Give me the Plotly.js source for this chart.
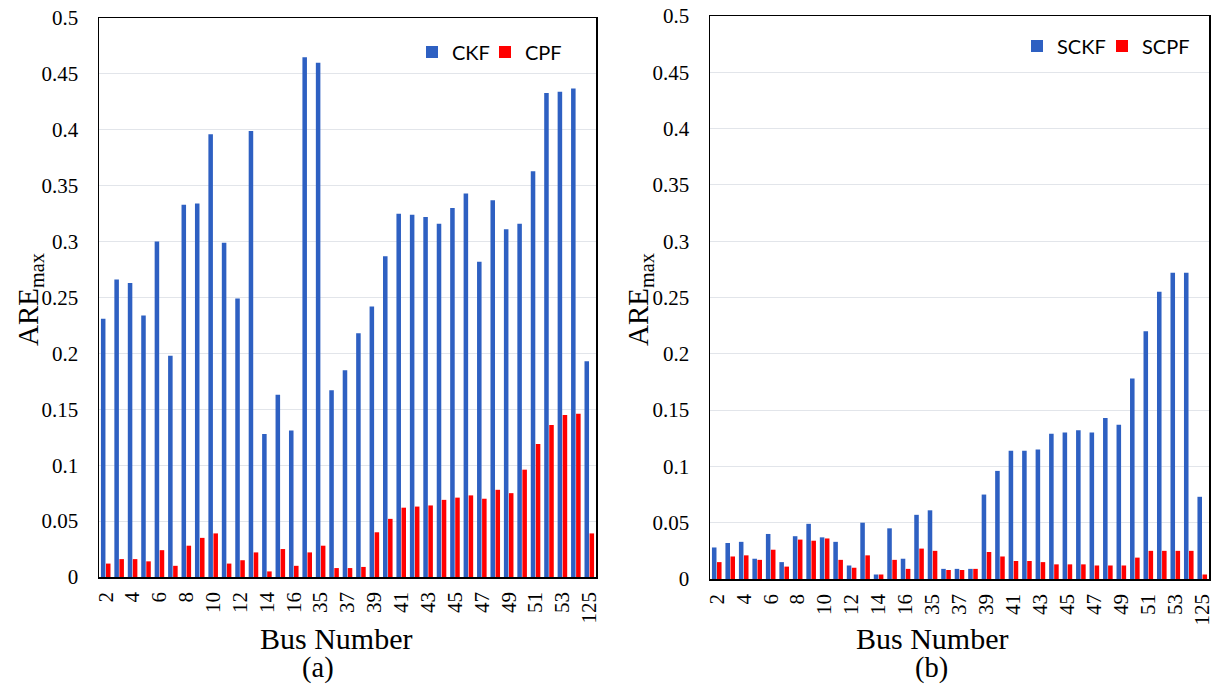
<!DOCTYPE html>
<html>
<head>
<meta charset="utf-8">
<script src="https://cdn.plot.ly/plotly-3.0.1.min.js"></script>
<style>
html,body{margin:0;padding:0;background:#fff;}
#chart{width:1217px;height:687px;}
</style>
</head>
<body>
<div id="chart"></div>
<script>
// Bus numbers (categories)
const busNumbers = ["2","3","4","5","6","7","8","9","10","11","12","13","14","15","16","34",
  "35","36","37","38","39","40","41","42","43","44","45","46","47","48","49","50","51","52","53","54","125"];
// shown tick labels (every other category)
const xTickLabels = busNumbers.filter((b, i) => i % 2 === 0);

// (a) CKF / CPF
const ckf = [0.231,0.266,0.263,0.234,0.300,0.198,0.333,0.334,0.396,0.299,0.249,0.399,0.128,0.163,0.131,0.465,
  0.460,0.167,0.185,0.218,0.242,0.287,0.325,0.324,0.322,0.316,0.330,0.343,0.282,0.337,0.311,0.316,0.363,0.433,0.434,0.437,0.193];
const cpf = [0.012,0.016,0.016,0.014,0.024,0.010,0.028,0.035,0.039,0.012,0.015,0.022,0.005,0.025,0.010,0.022,
  0.028,0.008,0.008,0.009,0.040,0.052,0.062,0.063,0.064,0.069,0.071,0.073,0.070,0.078,0.075,0.096,0.119,0.136,0.145,0.146,0.039];

// (b) SCKF / SCPF
const sckf = [0.028,0.032,0.033,0.018,0.040,0.015,0.038,0.049,0.037,0.033,0.012,0.050,0.004,0.045,0.018,0.057,
  0.061,0.009,0.009,0.009,0.075,0.096,0.114,0.114,0.115,0.129,0.130,0.132,0.130,0.143,0.137,0.178,0.220,0.255,0.272,0.272,0.073];
const scpf = [0.015,0.020,0.021,0.017,0.026,0.011,0.035,0.034,0.036,0.017,0.010,0.021,0.004,0.017,0.009,0.027,
  0.025,0.008,0.008,0.009,0.024,0.020,0.016,0.016,0.015,0.013,0.013,0.013,0.012,0.012,0.012,0.019,0.025,0.025,0.025,0.025,0.004];

const yTickVals = [0,0.05,0.1,0.15,0.2,0.25,0.3,0.35,0.4,0.45,0.5];
const yTickText = ["0","0.05","0.1","0.15","0.2","0.25","0.3","0.35","0.4","0.45","0.5"];

const BLUE = '#2e60c2';
const RED = '#ff0000';

const traces = [
  {type:'bar', name:'CKF', x:busNumbers, y:ckf, xaxis:'x', yaxis:'y', marker:{color:BLUE}, legend:'legend'},
  {type:'bar', name:'CPF', x:busNumbers, y:cpf, xaxis:'x', yaxis:'y', marker:{color:RED}, legend:'legend2'},
  {type:'bar', name:'SCKF', x:busNumbers, y:sckf, xaxis:'x2', yaxis:'y2', marker:{color:BLUE}, legend:'legend3'},
  {type:'bar', name:'SCPF', x:busNumbers, y:scpf, xaxis:'x2', yaxis:'y2', marker:{color:RED}, legend:'legend4'}
];

const W = 1217, H = 687;
const serif = 'Liberation Serif, Times New Roman, serif';
const tickFont = {family: serif, size: 21, color: '#000'};

function xAxis(x0, x1, anchor){
  return {
    domain:[x0/W, x1/W], anchor:anchor, type:'category',
    tickmode:'array', tickvals:xTickLabels, ticktext:xTickLabels,
    tickangle:-90, tickfont:tickFont, ticks:'', showgrid:false,
    showline:true, mirror:true, linecolor:'#000', linewidth:1.5,
    ticklabelstandoff:5, fixedrange:true
  };
}
function yAxis(top, bottom, anchor){
  return {
    domain:[1-bottom/H, 1-top/H], anchor:anchor, range:[0,0.5],
    tickmode:'array', tickvals:yTickVals, ticktext:yTickText,
    tickfont:tickFont, ticks:'', showgrid:true, gridcolor:'#e2e5ea', gridwidth:1,
    zeroline:false, showline:true, mirror:true, linecolor:'#000', linewidth:1.5,
    ticklabelstandoff:15, fixedrange:true
  };
}

const legendFont = {family:'Lato, Carlito, sans-serif', size:20, color:'#000'};
function legendAt(xText, yMid){
  return {orientation:'h', x:(xText-40)/W, xanchor:'left', y:1-yMid/H, yanchor:'middle',
    font:legendFont, bgcolor:'rgba(0,0,0,0)'};
}

const layout = {
  width:W, height:H,
  margin:{l:0,r:0,t:0,b:0},
  paper_bgcolor:'#fff', plot_bgcolor:'#fff',
  barmode:'group', bargap:0.25, bargroupgap:0.1,
  showlegend:true,
  xaxis: xAxis(99, 596, 'y'),
  yaxis: yAxis(18, 577, 'x'),
  xaxis2: xAxis(710, 1209, 'y2'),
  yaxis2: yAxis(16, 579, 'x2'),
  legend: legendAt(452, 52),
  legend2: legendAt(525, 52),
  legend3: legendAt(1057, 46),
  legend4: legendAt(1142, 46),
  annotations:[
    {text:'Bus Number', xref:'paper', yref:'paper', x:336/W, y:1-638/H, showarrow:false,
      font:{family:serif, size:30, color:'#000'}, xanchor:'center', yanchor:'middle'},
    {text:'(a)', xref:'paper', yref:'paper', x:318/W, y:1-668/H, showarrow:false,
      font:{family:serif, size:28.5, color:'#000'}, xanchor:'center', yanchor:'middle'},
    {text:'Bus Number', xref:'paper', yref:'paper', x:932/W, y:1-638/H, showarrow:false,
      font:{family:serif, size:30, color:'#000'}, xanchor:'center', yanchor:'middle'},
    {text:'(b)', xref:'paper', yref:'paper', x:931/W, y:1-668/H, showarrow:false,
      font:{family:serif, size:28.5, color:'#000'}, xanchor:'center', yanchor:'middle'},
    {text:'ARE<sub>max</sub>', xref:'paper', yref:'paper', x:30/W, y:1-300/H, showarrow:false, textangle:-90,
      font:{family:serif, size:29, color:'#000'}, xanchor:'center', yanchor:'middle'},
    {text:'ARE<sub>max</sub>', xref:'paper', yref:'paper', x:640/W, y:1-300/H, showarrow:false, textangle:-90,
      font:{family:serif, size:29, color:'#000'}, xanchor:'center', yanchor:'middle'}
  ]
};

Plotly.newPlot('chart', traces, layout, {displayModeBar:false, staticPlot:true});
</script>
</body>
</html>
